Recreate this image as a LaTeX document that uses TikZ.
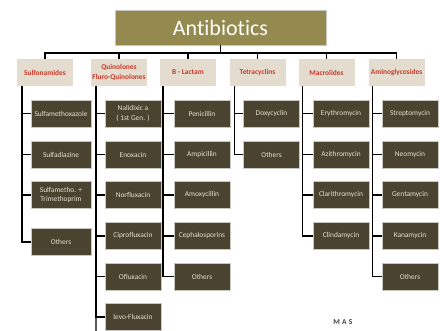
\documentclass[tikz,border=0pt]{standalone}
\usepackage{fontspec}
\setmainfont{Carlito}[Ligatures=NoCommon]
\definecolor{titlefill}{HTML}{948A50}
\definecolor{catfill}{HTML}{E4DCCF}
\definecolor{cattext}{HTML}{C83A2A}
\definecolor{childfill}{HTML}{4A4330}
\definecolor{childtext}{HTML}{E6E2D2}
\definecolor{edgegray}{HTML}{C8C8C0}
\begin{document}
\begin{tikzpicture}[x=1pt,y=-1pt,
  titlebox/.style={rectangle,fill=titlefill,draw=edgegray,line width=0.6pt,minimum width=211pt,minimum height=35pt,inner sep=0pt,text=white,font=\fontsize{22}{24}\selectfont},
  catbox/.style={rectangle,fill=catfill,minimum width=56pt,minimum height=27pt,inner sep=0pt,text=cattext,align=center,font=\bfseries\fontsize{7.4}{9.5}\selectfont},
  childbox/.style={rectangle,fill=childfill,draw=edgegray,line width=0.5pt,minimum width=56pt,minimum height=27pt,inner sep=0pt,text=childtext,align=center,font=\fontsize{7.4}{9.5}\selectfont},
  conn/.style={draw=black,line width=1.5pt},
  link/.style={draw=black,line width=1.4pt}
]
\useasboundingbox (0,0) rectangle (440,331);
\fill[white] (0,0) rectangle (440,331);

\node[titlebox] (title) at (220.5,27.5) {Antibiotics};

\node[catbox] (c1) at (45,72.5) {Sulfonamides};
\node[catbox] (c2) at (119,72.5) {Quinolones\\Fluro-Quinolones};
\node[catbox] (c3) at (188,72.5) {B - Lactam};
\node[catbox] (c4) at (257.5,72.5) {Tetracyclins};
\node[catbox] (c5) at (326.5,72.5) {Macrolides};
\node[catbox] (c6) at (396.5,72.5) {Aminoglycosides};

\coordinate (bus) at (220.5,53);
\draw[conn] (title.south) -- (bus);
\draw[conn,line cap=rect] (c1.north |- bus) -- (c6.north |- bus);
\foreach \c in {c1,c2,c3,c4,c5,c6} {
  \draw[conn] (\c.north |- bus) -- (\c.north);
}

% Sulfonamides
\node[childbox,minimum width=60pt] (s1) at (61,113.5) {Sulfamethoxazole};
\node[childbox,minimum width=60pt] (s2) at (61,154.5) {Sulfadiazine};
\node[childbox,minimum width=60pt] (s3) at (61,195) {Sulfametho. +\\Trimethoprim};
\node[childbox,minimum width=60pt] (s4) at (61,242) {Others};

% Quinolones
\node[childbox] (q1) at (133,113.5) {Nalidixic a\\( 1st Gen. )};
\node[childbox] (q2) at (133,154.5) {Enoxacin};
\node[childbox] (q3) at (133,195) {Norfluxacin};
\node[childbox] (q4) at (133,236) {Ciprofluxacin};
\node[childbox] (q5) at (133,276.5) {Ofluxacin};
\node[childbox] (q6) at (133,317) {levo-Fluxacin};
\coordinate (qend) at (96,331);

% B-Lactam
\node[childbox] (b1) at (202,113.5) {Penicillin};
\node[childbox] (b2) at (202,154.5) {Ampicillin};
\node[childbox] (b3) at (202,195) {Amoxycillin};
\node[childbox] (b4) at (202,236) {Cephalosporins};
\node[childbox] (b5) at (202,276.5) {Others};

% Tetracyclins
\node[childbox] (t1) at (271.5,113.5) {Doxycyclin};
\node[childbox] (t2) at (271.5,154.5) {Others};

% Macrolides
\node[childbox] (m1) at (341,113.5) {Erythromycin};
\node[childbox] (m2) at (341,154.5) {Azithromycin};
\node[childbox] (m3) at (341,195) {Clarithromycin};
\node[childbox] (m4) at (341,236) {Clindamycin};

% Aminoglycosides
\node[childbox] (a1) at (410,113.5) {Streptomycin};
\node[childbox] (a2) at (410,154.5) {Neomycin};
\node[childbox] (a3) at (410,195) {Gentamycin};
\node[childbox] (a4) at (410,236) {Kanamycin};
\node[childbox] (a5) at (410,276.5) {Others};

% connectors
\foreach \k in {s1,s2,s3,s4} { \draw[link] ([xshift=5pt]c1.south west) |- (\k.west); }
\foreach \k in {q1,q2,q3,q4,q5,q6} { \draw[link] ([xshift=5pt]c2.south west) |- (\k.west); }
\draw[link] ([xshift=5pt]c2.south west) -- (qend);
\foreach \k in {b1,b2,b3,b4,b5} { \draw[link] ([xshift=3pt]c3.south west) |- (\k.west); }
\foreach \k in {t1,t2} { \draw[link] ([xshift=5pt]c4.south west) |- (\k.west); }
\foreach \k in {m1,m2,m3,m4} { \draw[link] ([xshift=4pt]c5.south west) |- (\k.west); }
\foreach \k in {a1,a2,a3,a4,a5} { \draw[link] ([xshift=4pt]c6.south west) |- (\k.west); }

\node[text=black!75,font=\bfseries\fontsize{7.5}{9}\selectfont] (mas) at (343,322) {M\hspace{2.2pt}A\hspace{2.2pt}S};
\end{tikzpicture}
\end{document}
